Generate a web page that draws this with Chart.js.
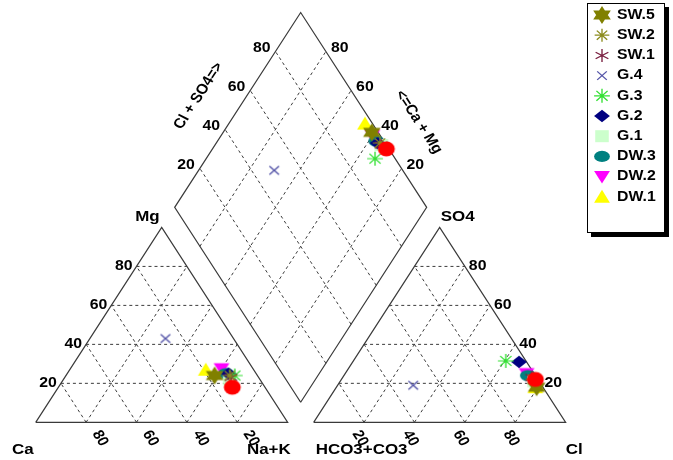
<!DOCTYPE html>
<html><head><meta charset="utf-8">
<script src="https://cdn.jsdelivr.net/npm/chart.js@4.4.1/dist/chart.umd.min.js"></script>
<style>html,body{margin:0;padding:0;background:#fff;}#wrap{width:673px;height:460px;}</style>
</head><body><div id="wrap"><canvas id="c" width="673" height="460"></canvas></div>
<script>
// ---------------- data (percent of meq) ----------------
const seriesNames = ['SW.5','SW.2','SW.1','G.4','G.3','G.2','G.1','DW.3','DW.2','DW.1','(red)'];
const caPct   = [17, 11, 11, 27,  9, 11, 12, 12, 12.5, 19, 13];
const mgPct   = [24, 24, 23, 43, 24, 25, 22, 25, 27.5, 27, 18];
const naKPct  = [59, 65, 66, 30, 67, 64, 66, 63, 60,   54, 69];
const hco3Pct = [2.5, 2, 2, 51, 8, 3, 2, 3, 3, 3, 1];
const so4Pct  = [18, 22, 23, 19, 31.5, 31, 21, 24, 25, 18, 22];
const clPct   = [79.5, 76, 75, 30, 60.5, 66, 77, 73, 72, 79, 77];
const tickValues = [20, 40, 60, 80];
const tickLabels = ['20', '40', '60', '80'];
const legendNames = ['SW.5','SW.2','SW.1','G.4','G.3','G.2','G.1','DW.3','DW.2','DW.1'];

// ---------------- styles ----------------
const markerStyle = {
  'SW.5': {shape:'hexagram', color:'#808000', r:9},
  'SW.2': {shape:'star8', color:'#8c8c1e', r:6.5},
  'SW.1': {shape:'star6', color:'#7a1f40', r:6.5},
  'G.4':  {shape:'cross', color:'#5555a8', r:6},
  'G.3':  {shape:'star8', color:'#33e033', r:7},
  'G.2':  {shape:'diamond', color:'#000080', r:7},
  'G.1':  {shape:'square', color:'#ccffcc', r:6},
  'DW.3': {shape:'ellipse', color:'#008080', r:7},
  'DW.2': {shape:'triDown', color:'#ff00ff', r:7},
  'DW.1': {shape:'triUp', color:'#ffff00', r:7},
  '(red)':{shape:'circle', color:'#ff0000', r:7.5}
};
const SX = 1.13;            // horizontal stretch of the original picture
const FONT = '"Liberation Sans", Arial, sans-serif';

// ---------------- Piper geometry (units; side = 100) ----------------
const GAP = 10.3;
const H = Math.sqrt(3) / 2;
function cationXY(ca, mg, na) { const s = ca + mg + na; mg = mg / s * 100; na = na / s * 100; return {x: na + mg / 2, y: mg * H}; }
function anionXY(hc, so4, cl) { const s = hc + so4 + cl; so4 = so4 / s * 100; cl = cl / s * 100; return {x: 100 + GAP + cl + so4 / 2, y: so4 * H}; }
function diamondXY(c, a) { const t = (a.x - c.x) + (a.y - c.y) / Math.sqrt(3); return {x: c.x + t / 2, y: c.y + t * H}; }

const DB = {x: 100 + GAP / 2, y: GAP * H};
const DL = {x: 50 + GAP / 2, y: (100 + GAP) * H};
const DR = {x: 150 + GAP / 2, y: (100 + GAP) * H};
const DT = {x: 100 + GAP / 2, y: (200 + GAP) * H};
const lerp = (p, q, f) => ({x: p.x + (q.x - p.x) * f, y: p.y + (q.y - p.y) * f});

// pixel mapping of the frame
const KX = 2.52, KY = 2.25, X0 = 35.7, Y0 = 422.3, W = 673, HH = 460;

// ---------------- line datasets ----------------
const datasets = [];
function addLine(pts, dashed) {
  datasets.push({data: pts, showLine: true, pointRadius: 0, borderColor: dashed ? '#3c3c3c' : '#3a3a3a',
    borderWidth: dashed ? 1 : 1.2, borderDash: dashed ? [3, 3] : [], order: 50, clip: false, fill: false, tension: 0});
}
[0, 100 + GAP].forEach(ox => {
  addLine([{x: ox, y: 0}, {x: ox + 100, y: 0}, {x: ox + 50, y: 100 * H}, {x: ox, y: 0}], false);
  tickValues.forEach(k => {
    addLine([{x: ox + k / 2, y: k * H}, {x: ox + 100 - k / 2, y: k * H}], true);
    addLine([{x: ox + k, y: 0}, {x: ox + k + (100 - k) / 2, y: (100 - k) * H}], true);
    addLine([{x: ox + 100 - k, y: 0}, {x: ox + (100 - k) / 2, y: (100 - k) * H}], true);
  });
});
addLine([DB, DR, DT, DL, DB], false);
tickValues.forEach(k => {
  const f = k / 100;
  addLine([lerp(DB, DR, f), lerp(DL, DT, f)], true);
  addLine([lerp(DB, DL, f), lerp(DR, DT, f)], true);
});

// ---------------- markers ----------------
function drawShape(g, st) {
  const r = st.r;
  g.fillStyle = st.color; g.strokeStyle = st.color;
  g.beginPath();
  switch (st.shape) {
    case 'hexagram': {
      [[-90, 30, 150], [90, 210, 330]].forEach(tri => {
        tri.forEach((a, i) => { const rad = a * Math.PI / 180; const px = r * Math.cos(rad), py = r * Math.sin(rad); i ? g.lineTo(px, py) : g.moveTo(px, py); });
        g.closePath();
      });
      g.fill(); break;
    }
    case 'star8': case 'star6': case 'cross': {
      const angs = st.shape === 'star8' ? [0, 45, 90, 135] : st.shape === 'star6' ? [90, 30, 150] : [45, 135];
      angs.forEach(a => { const rad = a * Math.PI / 180; g.moveTo(-r * Math.cos(rad), -r * Math.sin(rad)); g.lineTo(r * Math.cos(rad), r * Math.sin(rad)); });
      g.lineWidth = 1.2; g.stroke(); break;
    }
    case 'diamond': g.moveTo(0, -r * 0.9); g.lineTo(r, 0); g.lineTo(0, r * 0.9); g.lineTo(-r, 0); g.closePath(); g.fill(); break;
    case 'square': g.rect(-r, -r, 2 * r, 2 * r); g.fill(); break;
    case 'ellipse': g.ellipse(0, 0, r, r * 0.8, 0, 0, Math.PI * 2); g.fill(); break;
    case 'triDown': g.moveTo(-r, -r * 0.8); g.lineTo(r, -r * 0.8); g.lineTo(0, r); g.closePath(); g.fill(); break;
    case 'triUp': g.moveTo(0, -r); g.lineTo(r, r * 0.85); g.lineTo(-r, r * 0.85); g.closePath(); g.fill(); break;
    case 'circle': g.arc(0, 0, r, 0, Math.PI * 2); g.fill(); break;
  }
}
function drawSymbol(g, st, x, y) { g.save(); g.translate(x, y); g.scale(SX, 1); drawShape(g, st); g.restore(); }
function makeImage(st) {
  const c = document.createElement('canvas'); c.width = 28; c.height = 24;
  drawSymbol(c.getContext('2d'), st, 14, 12); return c;
}

seriesNames.forEach((name, i) => {
  const c = cationXY(caPct[i], mgPct[i], naKPct[i]);
  const a = anionXY(hco3Pct[i], so4Pct[i], clPct[i]);
  const d = diamondXY(c, a);
  datasets.push({label: name, data: [c, a, d], showLine: false, pointStyle: makeImage(markerStyle[name]),
    pointRadius: 8, pointHoverRadius: 8, order: name === '(red)' ? 0 : i + 1, clip: false});
});

// ---------------- text + legend plugin ----------------
function txt(ctx, s, x, y, align, rot, size) {
  ctx.save(); ctx.translate(x, y); ctx.scale(SX, 1); ctx.rotate((rot || 0) * Math.PI / 180);
  ctx.font = 'bold ' + (size || 14) + 'px ' + FONT; ctx.fillStyle = '#000';
  ctx.textAlign = align || 'center'; ctx.textBaseline = 'middle'; ctx.fillText(s, 0, 0); ctx.restore();
}
const decor = {
  id: 'decor',
  beforeDraw(chart) { const ctx = chart.ctx; ctx.save(); ctx.fillStyle = '#fff'; ctx.fillRect(0, 0, chart.width, chart.height); ctx.restore(); },
  beforeDatasetsDraw(chart) {
    const ctx = chart.ctx, sx = chart.scales.x, sy = chart.scales.y;
    const P = p => ({x: sx.getPixelForValue(p.x), y: sy.getPixelForValue(p.y)});
    const ox = 100 + GAP;
    tickValues.forEach((k, i) => {
      const lab = tickLabels[i];
      let p = P({x: k / 2, y: k * H}); txt(ctx, lab, p.x - 4, p.y, 'right');
      p = P({x: ox + 100 - k / 2, y: k * H}); txt(ctx, lab, p.x + 4, p.y, 'left');
      p = P({x: 100 - k, y: 0}); txt(ctx, lab, p.x + 14, p.y + 16, 'center', 60);
      p = P({x: ox + k, y: 0}); txt(ctx, lab, p.x - 4, p.y + 16, 'center', 60);
      p = P(lerp(DL, DT, k / 100)); txt(ctx, lab, p.x - 5, p.y - 3, 'right');
      p = P(lerp(DR, DT, k / 100)); txt(ctx, lab, p.x + 5, p.y - 3, 'left');
    });
    let p = P({x: 50, y: 100 * H}); txt(ctx, 'Mg', p.x - 2, p.y - 11, 'right', 0, 15);
    p = P({x: ox + 50, y: 100 * H}); txt(ctx, 'SO4', p.x + 1, p.y - 11, 'left', 0, 15);
    p = P({x: 0, y: 0}); txt(ctx, 'Ca', 12, p.y + 28, 'left', 0, 15);
    p = P({x: 100, y: 0}); txt(ctx, 'Na+K', p.x + 3, p.y + 28, 'right', 0, 15);
    p = P({x: ox, y: 0}); txt(ctx, 'HCO3+CO3', p.x + 2, p.y + 28, 'left', 0, 15);
    p = P({x: ox + 100, y: 0}); txt(ctx, 'Cl', p.x, p.y + 28, 'left', 0, 15);
    p = P(lerp(DL, DT, 0.5)); txt(ctx, 'Cl + SO4=>', p.x - 39, p.y - 14, 'center', -60, 14);
    p = P(lerp(DR, DT, 0.5)); txt(ctx, '<=Ca + Mg', p.x + 55, p.y + 12, 'center', 60, 14);
  },
  afterDraw(chart) {
    const ctx = chart.ctx;
    const bx = 587, by = 3, bw = 78, bh = 230;
    ctx.save();
    ctx.fillStyle = '#000'; ctx.fillRect(bx + 4, by + 4, bw, bh);
    ctx.fillStyle = '#fff'; ctx.fillRect(bx, by, bw, bh);
    ctx.strokeStyle = '#000'; ctx.lineWidth = 1; ctx.strokeRect(bx + 0.5, by + 0.5, bw - 1, bh - 1);
    legendNames.forEach((name, i) => {
      const y = 15 + i * 20.2;
      drawSymbol(ctx, markerStyle[name], 602, y);
      txt(ctx, name, 617, y, 'left', 0, 14);
    });
    ctx.restore();
  }
};

new Chart(document.getElementById('c'), {
  type: 'scatter',
  data: {datasets},
  options: {
    responsive: false, maintainAspectRatio: false, animation: false,
    layout: {padding: 0, autoPadding: false},
    plugins: {legend: {display: false}, tooltip: {enabled: false}},
    events: [],
    scales: {
      x: {type: 'linear', display: false, min: -X0 / KX, max: (W - X0) / KX},
      y: {type: 'linear', display: false, min: -(HH - Y0) / KY, max: Y0 / KY}
    }
  },
  plugins: [decor]
});
</script></body></html>
